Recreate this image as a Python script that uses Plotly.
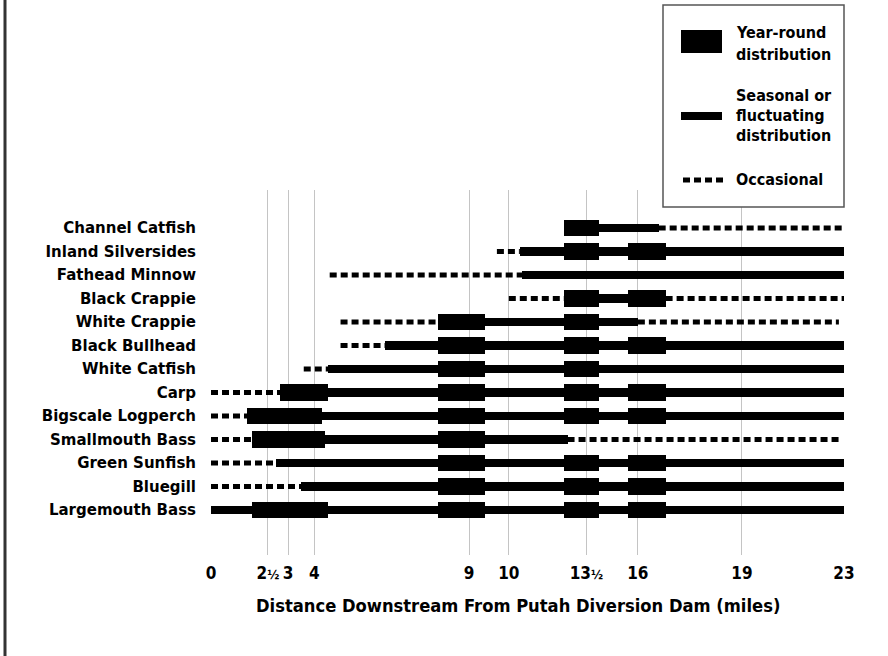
import numpy as np
import plotly.graph_objects as go

# ---------------- data (miles downstream of Putah Diversion Dam) ----------------
SPECIES = [
    "Channel Catfish", "Inland Silversides", "Fathead Minnow", "Black Crappie",
    "White Crappie", "Black Bullhead", "White Catfish", "Carp",
    "Bigscale Logperch", "Smallmouth Bass", "Green Sunfish", "Bluegill",
    "Largemouth Bass",
]

TICK_MILES = [0, 2.5, 3, 4, 9, 10, 13.5, 16, 19, 23]
TICK_TEXT = ["0", "2<span style='font-size:13px'>½</span>", "3", "4", "9", "10",
             "13<span style='font-size:13px'>½</span>", "16", "19", "23"]
# schematic (non-proportional) placement of the mile marks along the axis
AXIS_STOPS = [0, 2.07, 2.80, 3.75, 9.38, 10.82, 13.64, 15.51, 19.29, 23]

YEAR_ROUND = {
    "Channel Catfish": [(12.5, 14.1)],
    "Inland Silversides": [(12.5, 14.1), (15.5, 16.8)],
    "Black Crappie": [(12.5, 14.1), (15.5, 16.8)],
    "White Crappie": [(8.0, 9.4), (12.5, 14.1)],
    "Black Bullhead": [(8.0, 9.4), (12.5, 14.1), (15.5, 16.8)],
    "White Catfish": [(8.0, 9.4), (12.5, 14.1)],
    "Carp": [(2.8, 4.45), (8.0, 9.4), (12.5, 14.1), (15.5, 16.8)],
    "Bigscale Logperch": [(1.6, 4.25), (8.0, 9.4), (12.5, 14.1), (15.5, 16.8)],
    "Smallmouth Bass": [(1.8, 4.35), (8.0, 9.4)],
    "Green Sunfish": [(8.0, 9.4), (12.5, 14.1), (15.5, 16.8)],
    "Bluegill": [(8.0, 9.4), (12.5, 14.1), (15.5, 16.8)],
    "Largemouth Bass": [(1.8, 4.45), (8.0, 9.4), (12.5, 14.1), (15.5, 16.8)],
}

SEASONAL = {
    "Channel Catfish": [(12.5, 16.6)],
    "Inland Silversides": [(10.5, 23)],
    "Fathead Minnow": [(10.6, 23)],
    "Black Crappie": [(12.5, 16.8)],
    "White Crappie": [(8.0, 16.0)],
    "Black Bullhead": [(6.3, 23)],
    "White Catfish": [(4.45, 23)],
    "Carp": [(2.8, 23)],
    "Bigscale Logperch": [(1.6, 23)],
    "Smallmouth Bass": [(1.8, 12.65)],
    "Green Sunfish": [(2.7, 23)],
    "Bluegill": [(3.5, 23)],
    "Largemouth Bass": [(0, 23)],
}

OCCASIONAL = {
    "Channel Catfish": [(16.6, 23)],
    "Inland Silversides": [(9.7, 10.5)],
    "Fathead Minnow": [(4.5, 10.6)],
    "Black Crappie": [(10.0, 12.5), (16.8, 23)],
    "White Crappie": [(4.85, 8.0), (16.0, 22.8)],
    "Black Bullhead": [(4.85, 6.3)],
    "White Catfish": [(3.6, 4.45)],
    "Carp": [(0, 2.8)],
    "Bigscale Logperch": [(0, 1.6)],
    "Smallmouth Bass": [(0, 1.8), (12.65, 22.85)],
    "Green Sunfish": [(0, 2.7)],
    "Bluegill": [(0, 3.5)],
}


def scale(m):
    return float(np.interp(m, TICK_MILES, AXIS_STOPS))


def bar_trace(segs, width):
    ys, bases, lens = [], [], []
    for sp, lst in segs.items():
        for a, b in lst:
            ys.append(sp)
            bases.append(scale(a))
            lens.append(scale(b) - scale(a))
    return go.Bar(orientation="h", y=ys, x=lens, base=bases, width=width,
                  marker=dict(color="black", line=dict(width=0)),
                  showlegend=False, hoverinfo="skip")


def dash_trace(segs):
    xs, ys = [], []
    for sp, lst in segs.items():
        for a, b in lst:
            xs += [scale(a), scale(b), None]
            ys += [sp, sp, None]
    return go.Scatter(x=xs, y=ys, mode="lines",
                      line=dict(color="black", width=5, dash="7px,4px"),
                      showlegend=False, hoverinfo="skip", connectgaps=False)


fig = go.Figure()
fig.add_trace(bar_trace(SEASONAL, 0.38))
fig.add_trace(bar_trace(YEAR_ROUND, 0.72))
fig.add_trace(dash_trace(OCCASIONAL))

# layout geometry (pixels)
W, H = 888, 656
L, R, T, B = 211, 44, 190, 101
PW, PH = W - L - R, H - T - B


def px(x):
    return (x - L) / PW


def py(y):
    return (H - B - y) / PH


COND_FONT = "DejaVu Sans Condensed, Liberation Sans, sans-serif"
LABEL_FONT = "DejaVu Sans, sans-serif"

fig.update_layout(
    width=W, height=H,
    margin=dict(l=L, r=R, t=T, b=B, pad=0),
    paper_bgcolor="white", plot_bgcolor="white",
    barmode="overlay", bargap=0,
    showlegend=False,
    xaxis=dict(
        range=[0, 23], tickmode="array",
        tickvals=[scale(m) for m in TICK_MILES], ticktext=TICK_TEXT,
        showgrid=True, gridcolor="#c4c4c4", gridwidth=1,
        zeroline=False, showline=False, ticks="", tickangle=0,
        tickfont=dict(family=COND_FONT, size=17, color="black", weight="bold"),
        ticklabelstandoff=6,
    ),
    yaxis=dict(
        type="category", categoryorder="array",
        categoryarray=list(reversed(SPECIES)),
        range=[-1.915, 13.617],
        showgrid=False, zeroline=False, showline=False, ticks="",
        tickfont=dict(family=LABEL_FONT, size=15, color="black", weight="bold"),
        ticklabelstandoff=14,
    ),
)

shapes = []
annotations = []

# left frame line
shapes.append(dict(type="line", xref="paper", yref="paper",
                   x0=px(5), x1=px(5), y0=py(0), y1=py(H),
                   line=dict(color="#333333", width=3)))

# legend box
shapes.append(dict(type="rect", xref="paper", yref="paper",
                   x0=px(663), x1=px(844), y0=py(207), y1=py(5),
                   line=dict(color="#555555", width=1.5), fillcolor="white"))
shapes.append(dict(type="rect", xref="paper", yref="paper",
                   x0=px(681), x1=px(722), y0=py(53), y1=py(30),
                   line=dict(width=0), fillcolor="black"))
shapes.append(dict(type="rect", xref="paper", yref="paper",
                   x0=px(681), x1=px(722), y0=py(120), y1=py(112),
                   line=dict(width=0), fillcolor="black"))
shapes.append(dict(type="line", xref="paper", yref="paper",
                   x0=px(683), x1=px(723), y0=py(180), y1=py(180),
                   line=dict(color="black", width=5, dash="7px,4px")))

LEGEND_LINES = [
    ("Year-round", 32), ("distribution", 54),
    ("Seasonal or", 95), ("fluctuating", 115), ("distribution", 136),
    ("Occasional", 180),
]
for txt, yy in LEGEND_LINES:
    annotations.append(dict(text=txt, xref="paper", yref="paper",
                            x=px(734), y=py(yy), xanchor="left", yanchor="middle",
                            showarrow=False,
                            font=dict(family=COND_FONT, size=16, color="black",
                                      weight="bold")))

annotations.append(dict(text="Distance Downstream From Putah Diversion Dam (miles)",
                        xref="paper", yref="paper", x=px(518), y=py(605),
                        xanchor="center", yanchor="middle", showarrow=False,
                        font=dict(family=COND_FONT, size=18.2, color="black",
                                  weight="bold")))

fig.update_layout(shapes=shapes, annotations=annotations)
fig.write_html("out.html",
               config={"displayModeBar": False},
               post_script="document.body.style.margin='0';"
                           "document.body.style.overflow='hidden';")
